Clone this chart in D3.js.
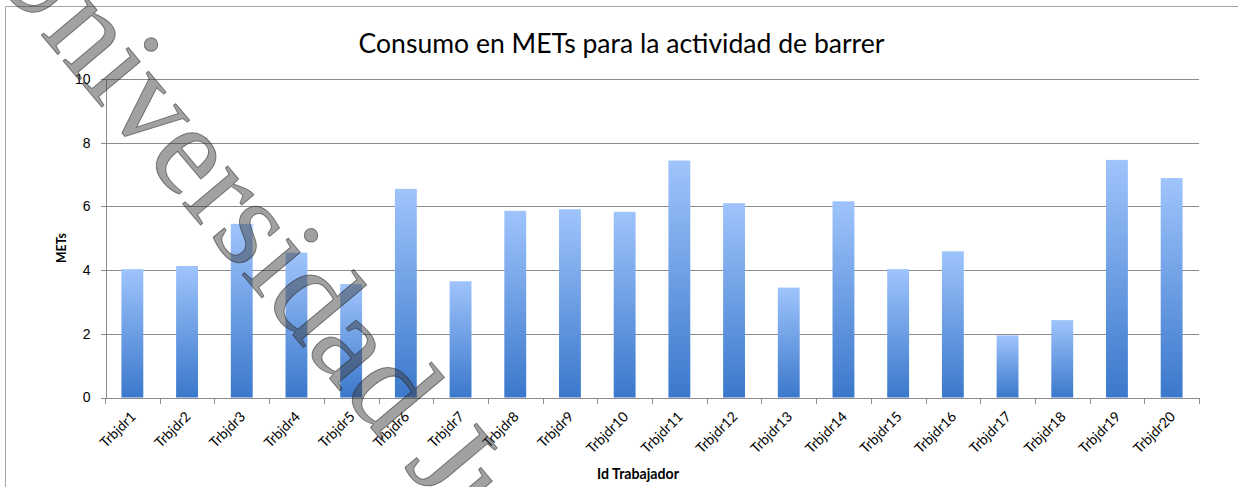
<!DOCTYPE html>
<html>
<head>
    <meta charset="utf-8">
    <title>Consumo en METs para la actividad de barrer</title>
    <style>
        body { margin: 0; background: #fff; }
        svg { display: block; font-family: Lato, "Open Sans", sans-serif; }
        .grid line { stroke: #8c8c8c; stroke-width: 1; }
        .axis path, .axis line { fill: none; stroke: #8c8c8c; shape-rendering: crispEdges; }
        .axis text { fill: #000; }
        .axis-title { font-weight: bold; }
        .watermark { font-family: "Liberation Serif", "DejaVu Serif", serif; }
    </style>
</head>
<body>
    <div id="chart"></div>
    <script src="https://d3js.org/d3.v7.min.js"></script>
    <script>
        // data
        const workers = ["Trbjdr1", "Trbjdr2", "Trbjdr3", "Trbjdr4", "Trbjdr5", "Trbjdr6", "Trbjdr7",
            "Trbjdr8", "Trbjdr9", "Trbjdr10", "Trbjdr11", "Trbjdr12", "Trbjdr13", "Trbjdr14",
            "Trbjdr15", "Trbjdr16", "Trbjdr17", "Trbjdr18", "Trbjdr19", "Trbjdr20"];
        const mets = [4.03, 4.13, 5.45, 4.55, 3.56, 6.55, 3.65, 5.86, 5.91, 5.83,
            7.44, 6.10, 3.45, 6.16, 4.03, 4.59, 1.95, 2.43, 7.46, 6.89];
        const yTicks = [0, 2, 4, 6, 8, 10];

        const width = 1238, height = 487;
        const plotLeft = 105, plotRight = 1199, plotTop = 79, plotBottom = 397.5;

        // scale a text's font so that it spans a given width
        function fitText(sel, base, target) {
            sel.style("font-size", base + "px");
            const w = sel.node().getComputedTextLength();
            sel.style("font-size", (base * target / w) + "px");
            return base * target / w;
        }

        const svg = d3.select("#chart").append("svg")
            .attr("width", width)
            .attr("height", height);

        // outer chart border (only left and top are visible)
        svg.append("path")
            .attr("d", `M5.5,${height} V6.5 H${width}`)
            .attr("fill", "none")
            .attr("stroke", "#a6a6a6");

        const grad = svg.append("defs").append("linearGradient")
            .attr("id", "barGrad")
            .attr("x1", 0).attr("y1", 0).attr("x2", 0).attr("y2", 1);
        grad.append("stop").attr("offset", "0%").attr("stop-color", "#9fc4fc");
        grad.append("stop").attr("offset", "100%").attr("stop-color", "#3b78cb");

        const x = d3.scaleBand()
            .domain(workers)
            .range([plotLeft, plotRight])
            .padding(0);

        const y = d3.scaleLinear()
            .domain([0, 10])
            .range([plotBottom, plotTop]);

        // gridlines
        svg.append("g")
            .attr("class", "grid")
            .selectAll("line")
            .data(yTicks.filter(d => d > 0))
            .enter()
            .append("line")
            .attr("x1", plotLeft)
            .attr("x2", plotRight)
            .attr("y1", d => Math.round(y(d)) + 0.5)
            .attr("y2", d => Math.round(y(d)) + 0.5);

        // bars
        const barW = x.bandwidth() * 0.4;
        svg.selectAll("rect.bar")
            .data(workers)
            .enter()
            .append("rect")
            .attr("class", "bar")
            .attr("x", d => x(d) + (x.bandwidth() - barW) / 2)
            .attr("y", (d, i) => y(mets[i]))
            .attr("width", barW)
            .attr("height", (d, i) => y(0) - y(mets[i]))
            .attr("fill", "url(#barGrad)");

        // y axis
        const yAxis = svg.append("g")
            .attr("class", "axis")
            .attr("transform", `translate(${plotLeft + 0.5},0)`)
            .call(d3.axisLeft(y).tickValues(yTicks).tickSize(5).tickSizeOuter(0).tickPadding(10));
        yAxis.selectAll("text").style("font-size", "14px");

        // x axis, ticks between categories
        const xAxis = svg.append("g")
            .attr("class", "axis")
            .attr("transform", `translate(0,${Math.round(plotBottom) - 0.5})`);
        xAxis.append("line")
            .attr("x1", plotLeft).attr("x2", plotRight + 0.5)
            .attr("y1", 0.5).attr("y2", 0.5);
        xAxis.selectAll("line.tk")
            .data(workers.concat(["end"]))
            .enter()
            .append("line")
            .attr("class", "tk")
            .attr("x1", (d, i) => Math.round(plotLeft + i * x.step()) + 0.5)
            .attr("x2", (d, i) => Math.round(plotLeft + i * x.step()) + 0.5)
            .attr("y1", 0.5).attr("y2", 6);
        const xLabels = xAxis.selectAll("text")
            .data(workers)
            .enter()
            .append("text")
            .attr("transform", d => `translate(${x(d) + x.bandwidth() / 2 + 4.5},20) rotate(-45)`)
            .attr("text-anchor", "end")
            .text(d => d);
        const labelSize = fitText(xLabels.filter((d, i) => i === 0), 12, 44);
        xLabels.style("font-size", labelSize + "px");

        // title
        const title = svg.append("text")
            .attr("x", 621.5)
            .attr("y", 53)
            .attr("text-anchor", "middle")
            .text("Consumo en METs para la actividad de barrer");
        fitText(title, 24, 526);

        const xTitle = svg.append("text")
            .attr("class", "axis-title")
            .attr("x", 638)
            .attr("y", 479)
            .attr("text-anchor", "middle")
            .text("Id Trabajador");
        fitText(xTitle, 13, 82);

        const yTitle = svg.append("text")
            .attr("class", "axis-title")
            .attr("transform", "translate(66,248) rotate(-90)")
            .attr("text-anchor", "middle")
            .text("METs");
        fitText(yTitle, 12, 30);

        // diagonal watermark over the chart
        svg.append("text")
            .attr("class", "watermark")
            .attr("transform", "translate(-20,-38) rotate(50)")
            .style("font-size", "128px")
            .attr("fill", "#3a3a3a")
            .attr("fill-opacity", 0.48)
            .attr("stroke", "#2a2a2a")
            .attr("stroke-opacity", 0.55)
            .attr("stroke-width", 1)
            .text("Universidad Ju");
    </script>
</body>
</html>
